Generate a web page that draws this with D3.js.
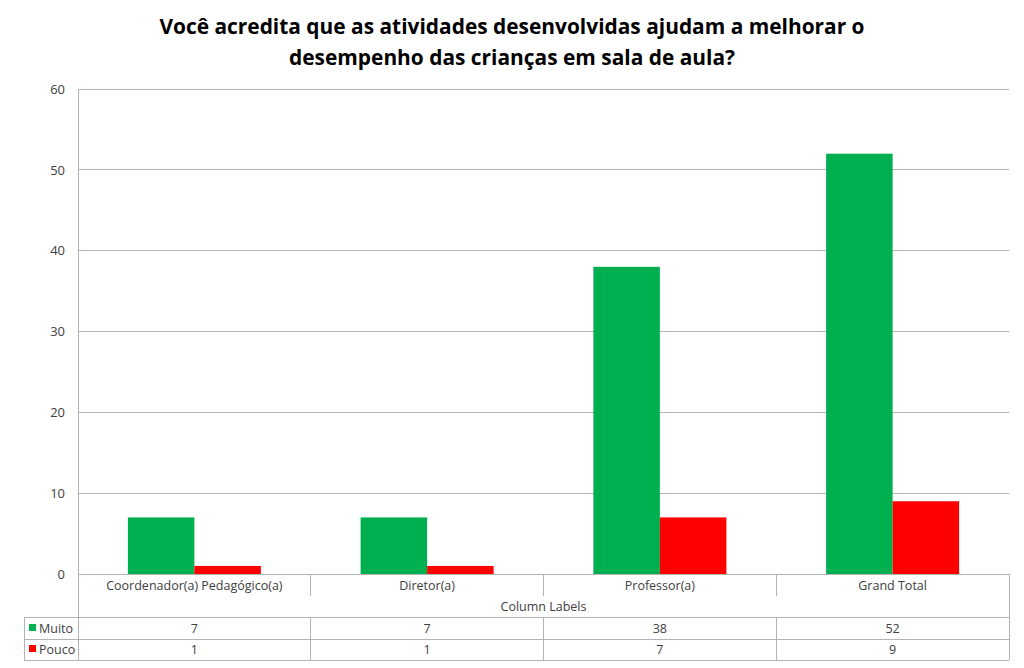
<!DOCTYPE html>
<html><head><meta charset="utf-8">
<script src="https://cdn.jsdelivr.net/npm/d3@7"></script>
<style>body{margin:0;background:#fff}svg{display:block}text{font-family:"Open Sans","Noto Sans",sans-serif}</style>
</head><body>
<script>
const categories = ["Coordenador(a) Pedagógico(a)", "Diretor(a)", "Professor(a)", "Grand Total"];
const seriesNames = ["Muito", "Pouco"];
const muito = [7, 7, 38, 52];
const pouco = [1, 1, 7, 9];
const yTicks = [0, 10, 20, 30, 40, 50, 60];
const colors = ["#00B050", "#FF0000"];
const titleLines = ["Você acredita que as atividades desenvolvidas ajudam a melhorar o", "desempenho das crianças em sala de aula?"];

const W = 1024, H = 668;
const m = {left: 78, right: 1009, top: 89, bottom: 574};
const svg = d3.select("body").append("svg").attr("width", W).attr("height", H);

svg.append("text").attr("x", 512).attr("text-anchor", "middle")
  .style("font-size", "20.9px").style("font-weight", "bold").attr("fill", "#000")
  .selectAll("tspan").data(titleLines).join("tspan")
  .attr("x", 512).attr("y", (d, i) => 34 + i * 31).text(d => d);

const x = d3.scaleBand().domain(categories).range([m.left, m.right]);
const xs = d3.scaleBand().domain(seriesNames).range([0, x.bandwidth()]).paddingOuter(0.75).paddingInner(0);
const y = d3.scaleLinear().domain([0, 60]).range([m.bottom, m.top]);

const grid = "#b3b3b3";
svg.append("g").selectAll("line").data(yTicks).join("line")
  .attr("x1", m.left).attr("x2", m.right).attr("y1", d => y(d)).attr("y2", d => y(d))
  .attr("stroke", grid).attr("stroke-width", 1).attr("shape-rendering", "crispEdges");

const yAxis = d3.axisLeft(y).tickValues(yTicks).tickSize(0).tickPadding(13);
const ga = svg.append("g").attr("transform", `translate(${m.left},0)`).call(yAxis);
ga.select(".domain").remove();
ga.selectAll("text").style("font-size", "13px").attr("fill", "#404040").style("font-family", "'Open Sans',sans-serif");

const data = [muito, pouco];
data.forEach((vals, si) => {
  svg.append("g").selectAll("rect").data(vals).join("rect")
    .attr("x", (d, i) => x(categories[i]) + xs(seriesNames[si]))
    .attr("width", xs.bandwidth())
    .attr("y", d => y(d)).attr("height", d => y(0) - y(d))
    .attr("fill", colors[si]);
});

// Table
const lines = svg.append("g").attr("stroke", grid).attr("shape-rendering", "crispEdges");
const rowCat = 596, rowCL = 617, rowM = 639, rowP = 660, legL = 24;
lines.append("line").attr("x1", m.left).attr("x2", m.left).attr("y1", m.top).attr("y2", rowP);
lines.append("line").attr("x1", m.right).attr("x2", m.right).attr("y1", m.bottom).attr("y2", rowP);
categories.slice(1).forEach(c => {
  lines.append("line").attr("x1", x(c)).attr("x2", x(c)).attr("y1", m.bottom).attr("y2", rowCat);
  lines.append("line").attr("x1", x(c)).attr("x2", x(c)).attr("y1", rowCL).attr("y2", rowP);
});
[rowCL, rowM, rowP].forEach(yy => lines.append("line").attr("x1", legL).attr("x2", m.right).attr("y1", yy).attr("y2", yy));
lines.append("line").attr("x1", legL).attr("x2", legL).attr("y1", rowCL).attr("y2", rowP);

const tstyle = sel => sel.style("font-size", "12.5px").attr("fill", "#404040").attr("text-anchor", "middle").attr("dominant-baseline", "central");
svg.append("g").selectAll("text").data(categories).join("text")
  .attr("x", d => x(d) + x.bandwidth() / 2).attr("y", 585).text(d => d).call(tstyle);
svg.append("text").attr("x", (m.left + m.right) / 2).attr("y", 606).text("Column Labels").call(tstyle);

const rowsY = [628, 649];
data.forEach((vals, si) => {
  svg.append("g").selectAll("text").data(vals).join("text")
    .attr("x", (d, i) => x(categories[i]) + x.bandwidth() / 2).attr("y", rowsY[si]).text(d => d).call(tstyle);
  svg.append("rect").attr("x", 29).attr("y", rowsY[si] - 4).attr("width", 7).attr("height", 7).attr("fill", colors[si]);
  svg.append("text").attr("x", 39).attr("y", rowsY[si]).text(seriesNames[si]).call(tstyle).attr("text-anchor", "start");
});
</script>
</body></html>
